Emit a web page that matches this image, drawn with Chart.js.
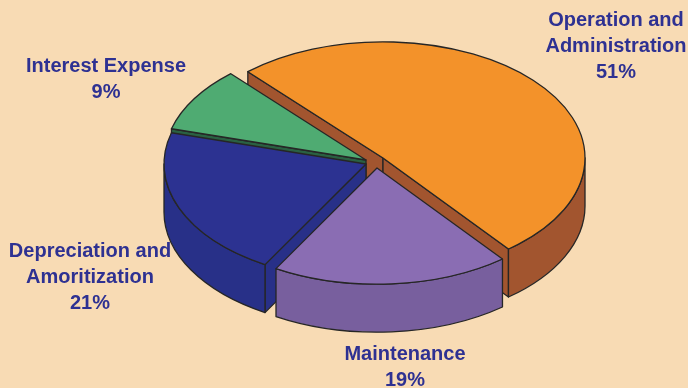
<!DOCTYPE html>
<html>
<head>
<meta charset="utf-8">
<title>Cost breakdown</title>
<script src="https://cdn.jsdelivr.net/npm/chart.js@4.4.1/dist/chart.umd.min.js"></script>
<style>
  html, body { margin: 0; padding: 0; background: #f8dbb4; }
  #wrap { width: 688px; height: 388px; position: relative; }
  canvas { display: block; }
</style>
</head>
<body>
<div id="wrap"><canvas id="chart" width="688" height="388"></canvas></div>
<script>
// ---- data ----
const categories = ['Operation and Administration', 'Maintenance', 'Depreciation and Amoritization', 'Interest Expense'];
const shares = [51, 19, 21, 9];
const labelLines = [['Operation and', 'Administration'], ['Maintenance'], ['Depreciation and', 'Amoritization'], ['Interest Expense']];

// ---- look ----
const topColors  = ['#f3922a', '#8a6db3', '#2c3291', '#4fab72'];
const sideColors = ['#a2552f', '#785f9e', '#283088', '#2a6142'];
const EDGE = '#262626';
const TEXT = '#2e3192';
const TILT = 0.575;     // vertical squash of the pie disc
const DEPTH = 48;       // thickness of the disc in px
const explode = [[11, -5], [5, 5], [-6, 1], [-6, -3]];   // pull of each slice away from the centre, px
const labelPos = [[616, 26], [405, 360], [90, 257], [106, 72]]; // centre x, first baseline
const LINE = 26;

function ept(cx, cy, r, a) {
  return [cx + r * Math.cos(a), cy + r * TILT * Math.sin(a)];
}

function drawWalls(ctx, it) {
  const { cx, cy } = it;
  const a0 = it.p.startAngle, a1 = it.p.endAngle, r = it.p.outerRadius;
  ctx.save();
  ctx.fillStyle = sideColors[it.i];
  ctx.strokeStyle = EDGE;
  ctx.lineWidth = 1.3;
  ctx.lineJoin = 'round';
  // cut faces that turn toward the viewer
  const faces = [];
  if (Math.cos(a0) < 0) faces.push(a0);
  if (Math.cos(a1) > 0) faces.push(a1);
  faces.forEach(a => {
    const [x, y] = ept(cx, cy, r, a);
    ctx.beginPath();
    ctx.moveTo(cx, cy);
    ctx.lineTo(x, y);
    ctx.lineTo(x, y + DEPTH);
    ctx.lineTo(cx, cy + DEPTH);
    ctx.closePath();
    ctx.fill();
    ctx.stroke();
  });
  // rim on the near half of the disc
  for (const off of [-2 * Math.PI, 0, 2 * Math.PI]) {
    const s = Math.max(a0, off), e = Math.min(a1, off + Math.PI);
    if (e <= s) continue;
    ctx.beginPath();
    ctx.ellipse(cx, cy, r, r * TILT, 0, s, e);
    ctx.ellipse(cx, cy + DEPTH, r, r * TILT, 0, e, s, true);
    ctx.closePath();
    ctx.fill();
    ctx.stroke();
  }
  ctx.restore();
}

function drawTop(ctx, it) {
  const { arc, p } = it;
  // let the arc element paint its own face inside a squashed space
  ctx.save();
  ctx.translate(it.cx - p.x, it.cy);
  ctx.scale(1, TILT);
  ctx.translate(0, -p.y);
  arc.draw(ctx);
  ctx.restore();
  // outline in screen space so the line weight stays even
  ctx.save();
  ctx.strokeStyle = EDGE;
  ctx.lineWidth = 1.3;
  ctx.lineJoin = 'round';
  ctx.beginPath();
  ctx.moveTo(it.cx, it.cy);
  ctx.ellipse(it.cx, it.cy, p.outerRadius, p.outerRadius * TILT, 0, p.startAngle, p.endAngle);
  ctx.closePath();
  ctx.stroke();
  ctx.restore();
}

const pie3d = {
  id: 'pie3d',
  beforeDatasetsDraw(chart) {
    const ctx = chart.ctx;
    const arcs = chart.getDatasetMeta(0).data;
    const items = arcs.map((arc, i) => {
      const p = arc.getProps(['x', 'y', 'startAngle', 'endAngle', 'outerRadius'], true);
      return { arc, i, p, cx: p.x + explode[i][0], cy: p.y + explode[i][1] };
    });
    // paint from the back of the disc to the front
    items.sort((a, b) => a.cy - b.cy);
    items.forEach(it => { drawWalls(ctx, it); drawTop(ctx, it); });
    return false;
  }
};

const sliceLabels = {
  id: 'sliceLabels',
  afterDraw(chart) {
    const ctx = chart.ctx;
    ctx.save();
    ctx.font = 'bold 20px "Liberation Sans", Arial, sans-serif';
    ctx.fillStyle = TEXT;
    ctx.textAlign = 'center';
    ctx.textBaseline = 'alphabetic';
    labelLines.forEach((lines, i) => {
      const [x, y] = labelPos[i];
      [...lines, shares[i] + '%'].forEach((t, j) => ctx.fillText(t, x, y + j * LINE));
    });
    ctx.restore();
  }
};

new Chart(document.getElementById('chart'), {
  type: 'pie',
  data: {
    labels: categories,
    datasets: [{
      data: shares,
      backgroundColor: topColors,
      borderWidth: 0,
      radius: 202,
      clip: false
    }]
  },
  options: {
    responsive: false,
    animation: false,
    events: [],
    rotation: -42,
    layout: { padding: { left: 56, right: 0, top: 0, bottom: 62 } },
    plugins: { legend: { display: false }, tooltip: { enabled: false } }
  },
  plugins: [pie3d, sliceLabels]
});
</script>
</body>
</html>
